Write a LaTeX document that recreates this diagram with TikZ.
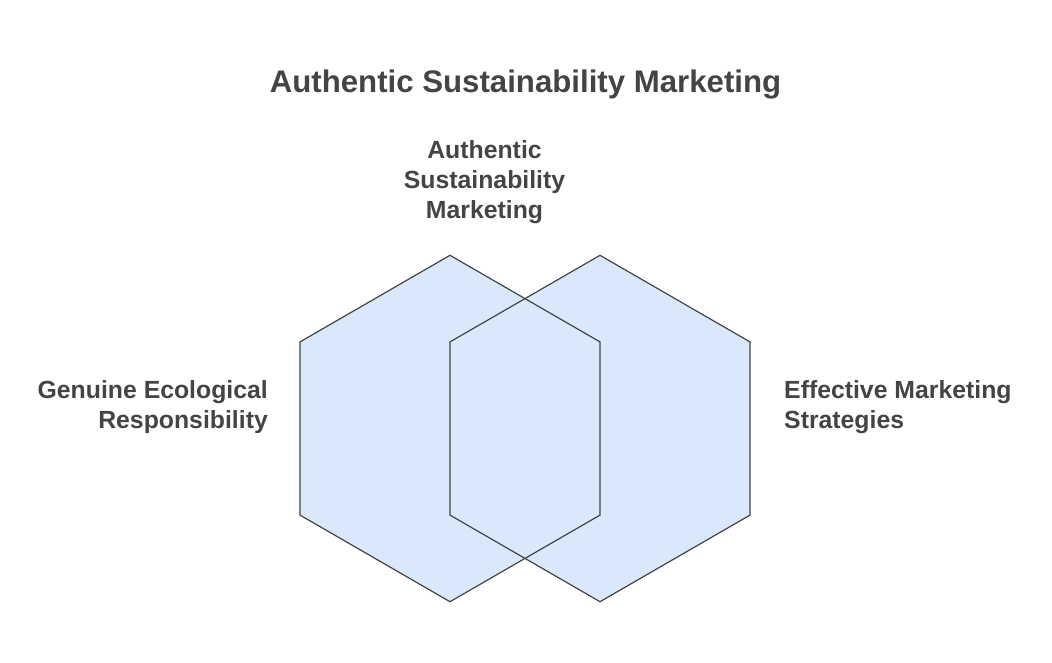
\documentclass[tikz,border=0pt]{standalone}
\usepackage{fontspec}
\setmainfont{Liberation Sans}
\usepackage{tikz}
\pgfdeclarelayer{bg}
\pgfsetlayers{bg,main}
\usetikzlibrary{positioning,shapes.geometric}
\definecolor{hexblue}{HTML}{DAE8FC}
\definecolor{inkgray}{HTML}{444444}

\begin{document}
\begin{tikzpicture}[x=1pt, y=-1pt,
    hexa/.style={regular polygon, regular polygon sides=6, shape border rotate=30,
      minimum size=346.4pt, inner sep=0pt, outer sep=0pt, draw=inkgray, line width=1.2pt},
    tag/.style={text=inkgray, font=\fontsize{24.8}{30}\selectfont\bfseries, inner sep=0pt}]
  \useasboundingbox (0,0) rectangle (1052,662);
  \node[tag, font=\fontsize{31.2}{38}\selectfont\bfseries] (title) at (525.5,84) {Authentic Sustainability Marketing};
  \node[hexa] (hexL) at (450,428.5) {};
  \node[hexa] (hexR) at (600,428.5) {};
  \node[tag, align=center] (core) at (484.5,182) {Authentic\\Sustainability\\Marketing};
  \node[tag, align=right, anchor=east] (eco) at (268,407.5) {Genuine Ecological\\Responsibility};
  \node[tag, align=left, anchor=west] (mkt) at (784,407.5) {Effective Marketing\\Strategies};
  \begin{pgfonlayer}{bg}
    \fill[hexblue] (hexL.corner 1) -- (hexL.corner 2) -- (hexL.corner 3) -- (hexL.corner 4) -- (hexL.corner 5) -- (hexL.corner 6) -- cycle;
    \fill[hexblue] (hexR.corner 1) -- (hexR.corner 2) -- (hexR.corner 3) -- (hexR.corner 4) -- (hexR.corner 5) -- (hexR.corner 6) -- cycle;
  \end{pgfonlayer}
\end{tikzpicture}
\end{document}
